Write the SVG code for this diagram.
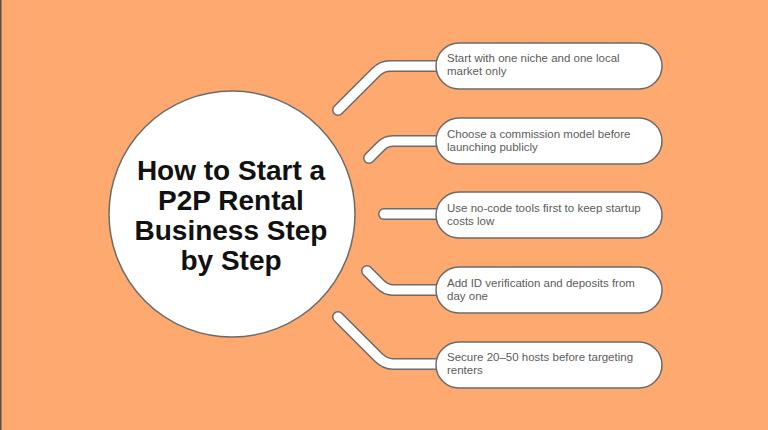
<svg xmlns="http://www.w3.org/2000/svg" width="768" height="430" viewBox="0 0 768 430">
<defs>
<style>
.bg{fill:#FDA96F}
.hub{fill:#fff;stroke:#6b6b6b;stroke-width:1.5}
.title{font-family:"Liberation Sans",Arial,sans-serif;font-weight:700;font-size:28px;fill:#111;text-anchor:middle}
.box{fill:#fff;stroke:#6b6b6b;stroke-width:1.5}
.lbl{font-family:"Liberation Sans",Arial,sans-serif;font-size:11.5px;fill:#5c5c5c}
.c-out{fill:none;stroke:#6b6b6b;stroke-width:12;stroke-linecap:round;stroke-linejoin:round}
.c-in{fill:none;stroke:#fff;stroke-width:9;stroke-linecap:round;stroke-linejoin:round}
</style>
</defs>
<rect class="bg" x="0" y="0" width="768" height="430"/>
<rect x="0" y="0" width="1.5" height="430" fill="#5a5048"/>

<g id="connectors">
  <path class="c-out" d="M338,110 L376,72 Q382,66 390,66 L440,66"/>
  <path class="c-out" d="M369,158 L381,146 Q386,141 393,141 L440,141"/>
  <path class="c-out" d="M384,214 L440,214"/>
  <path class="c-out" d="M367,271 L380,284 Q386,290 393,290 L440,290"/>
  <path class="c-out" d="M338,317 L378,357 Q385,364 393,364 L440,364"/>
  <path class="c-in" d="M338,110 L376,72 Q382,66 390,66 L440,66"/>
  <path class="c-in" d="M369,158 L381,146 Q386,141 393,141 L440,141"/>
  <path class="c-in" d="M384,214 L440,214"/>
  <path class="c-in" d="M367,271 L380,284 Q386,290 393,290 L440,290"/>
  <path class="c-in" d="M338,317 L378,357 Q385,364 393,364 L440,364"/>
</g>

<g id="hub">
  <circle class="hub" cx="232" cy="214" r="123"/>
  <text class="title" x="231" y="180">How to Start a</text>
  <text class="title" x="231" y="210">P2P Rental</text>
  <text class="title" x="231" y="240">Business Step</text>
  <text class="title" x="231" y="270">by Step</text>
</g>

<g id="step1">
  <rect class="box" x="436" y="43" width="226" height="46" rx="23"/>
  <text class="lbl" x="447" y="62">Start with one niche and one local</text>
  <text class="lbl" x="447" y="75">market only</text>
</g>
<g id="step2">
  <rect class="box" x="436" y="118" width="226" height="46" rx="23"/>
  <text class="lbl" x="447" y="137.5">Choose a commission model before</text>
  <text class="lbl" x="447" y="150.5">launching publicly</text>
</g>
<g id="step3">
  <rect class="box" x="436" y="192" width="226" height="46" rx="23"/>
  <text class="lbl" x="447" y="211.5">Use no-code tools first to keep startup</text>
  <text class="lbl" x="447" y="224.5">costs low</text>
</g>
<g id="step4">
  <rect class="box" x="436" y="267" width="226" height="46" rx="23"/>
  <text class="lbl" x="447" y="286.5">Add ID verification and deposits from</text>
  <text class="lbl" x="447" y="299.5">day one</text>
</g>
<g id="step5">
  <rect class="box" x="436" y="342" width="226" height="46" rx="23"/>
  <text class="lbl" x="447" y="361">Secure 20–50 hosts before targeting</text>
  <text class="lbl" x="447" y="374">renters</text>
</g>
</svg>
